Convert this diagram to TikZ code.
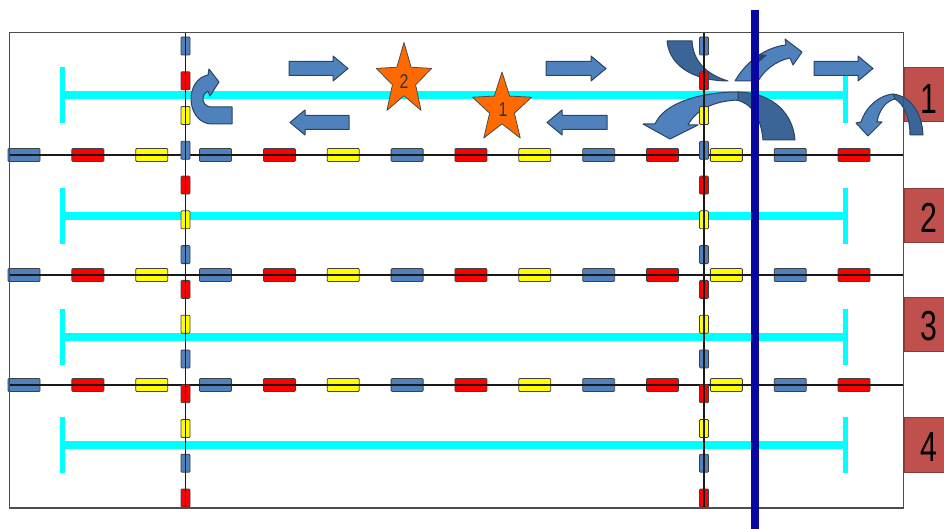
\documentclass[tikz,border=0pt]{standalone}
\usepackage{fontspec}
\setmainfont{Liberation Sans}
\definecolor{ablue}{HTML}{4F81BD}
\definecolor{adark}{HTML}{3B6596}
\definecolor{aline}{HTML}{2A4465}
\definecolor{dred}{HTML}{FF0000}
\definecolor{dyel}{HTML}{FFFF00}
\definecolor{lanecyan}{HTML}{00FFFF}
\definecolor{navyline}{RGB}{8,8,160}
\definecolor{boxred}{HTML}{C0504D}
\definecolor{boxline}{HTML}{8C3A38}
\definecolor{starorange}{HTML}{FF6A00}
\newcommand\rightblock[3]{%
  \filldraw[blockarrow] (#1,#3-7) -- (#2-15,#3-7) -- (#2-15,#3-12.5) -- (#2,#3) -- (#2-15,#3+12.5) -- (#2-15,#3+7) -- (#1,#3+7) -- cycle;}
\newcommand\leftblock[3]{%
  \filldraw[blockarrow] (#2,#3-7) -- (#1+15,#3-7) -- (#1+15,#3-12.5) -- (#1,#3) -- (#1+15,#3+12.5) -- (#1+15,#3+7) -- (#2,#3+7) -- cycle;}
\newcommand\drawstar[4]{%
  \filldraw[starsty] (#1,#2-#4) \foreach \sa/\sr in {126/0.42,162/1,198/0.42,234/1,270/0.42,306/1,342/0.42,18/1,54/0.42} { -- ({#1+#3*\sr*cos(\sa)},{#2-#4*\sr*sin(\sa)}) } -- cycle;}
\newcommand\numlbl[1]{\scalebox{0.72}[1]{\fontsize{42}{42}\selectfont #1}}
\newcommand\starlbl[1]{\scalebox{0.8}[1]{\fontsize{20}{20}\selectfont #1}}
\begin{document}
\begin{tikzpicture}[x=1pt,y=-1pt,
  hdash/.style={draw=black!75, line width=0.8pt, rounded corners=1pt},
  hline/.style={draw=black!90, line width=1.1pt},
  blockarrow/.style={fill=ablue, draw=aline, line width=1pt, line join=round},
  darkpart/.style={fill=adark, draw=aline, line width=1pt, line join=round},
  starsty/.style={fill=starorange, draw=black!70, line width=0.8pt, line join=round},
  lane/.style={draw=lanecyan, line width=8pt},
  lanecap/.style={draw=lanecyan, line width=5pt},
  numbox/.style={fill=boxred, draw=boxline, line width=1pt, minimum width=46pt, inner sep=0pt},
  numtext/.style={text=black, inner sep=0pt},
  startext/.style={text=black!80, inner sep=0pt}]
\useasboundingbox (0,0) rectangle (944,529);
\clip (0,0) rectangle (944,529);
\fill[white] (0,0) rectangle (944,529);
% lanes
\foreach \ly in {95,216,337,444.5} {
  \draw[lane] (62,\ly) -- (845,\ly);
  \draw[lanecap] (62,\ly-28) -- (62,\ly+28);
  \draw[lanecap] (845,\ly-28) -- (845,\ly+28);
}
% horizontal dashed lines
\foreach \yy in {155,275,385} {
  \foreach \k in {0,...,13} {
    \pgfmathtruncatemacro\cidx{mod(\k,3)}
    \ifcase\cidx \def\dashcol{ablue}\or\def\dashcol{dred}\or\def\dashcol{dyel}\fi
    \filldraw[hdash, fill=\dashcol] ({8+63.85*\k},\yy-6.5) rectangle ++(32,13);
  }
  \draw[hline] (10,\yy) -- (903,\yy);
}
% straight block arrows
\rightblock{289}{348}{68.5}
\rightblock{546}{606}{68.5}
\rightblock{814}{873}{68.5}
\leftblock{290}{349}{122.5}
\leftblock{547}{607}{122.5}
% stars
\drawstar{404}{80}{29}{37.5}
\node[startext] (star2) at (404,82) {\starlbl{2}};
\drawstar{502}{108.5}{31}{36.5}
\node[startext] (star1) at (503,110) {\starlbl{1}};
% U-turn arrow
\filldraw[blockarrow] (232,107) -- (212,107) .. controls (205,107) and (203,102) .. (203,99)
  .. controls (203,95) and (205,92) .. (208,91) -- (210,96) -- (219,82) -- (209,69) -- (208,75)
  .. controls (197,77) and (191,88) .. (191,99) .. controls (191,112) and (199,124) .. (212,124)
  -- (232,124) -- cycle;
% upper curved arrow pair
\filldraw[darkpart] (667,41) .. controls (670,70) and (700,81) .. (728,81)
  .. controls (705,74) and (693,60) .. (692,41) -- cycle;
\filldraw[blockarrow] (735,81) .. controls (747,60) and (767,47) .. (786,45) -- (785,39) -- (802,52)
  -- (793,65) -- (790,58) .. controls (775,61) and (764,71) .. (758,81) -- cycle;
\fill[aline] (759,54) -- (767,55) -- (759,62) -- cycle;
% lower curved arrow pair
\filldraw[darkpart] (738,92) .. controls (775,93) and (793,115) .. (795,140) -- (763,140)
  .. controls (761,118) and (752,103) .. (736,100) -- cycle;
\filldraw[blockarrow] (643,124) -- (670,139) -- (698,125) -- (688,125)
  .. controls (696,110) and (713,101) .. (738,100) -- (738,92)
  .. controls (700,92) and (664,103) .. (655,124) -- cycle;
% vertical dashed lines
\foreach \xx in {185.5,704} {
  \foreach \k in {0,...,13} {
    \pgfmathtruncatemacro\cidx{mod(\k,3)}
    \ifcase\cidx \def\dashcol{ablue}\or\def\dashcol{dred}\or\def\dashcol{dyel}\fi
    \filldraw[hdash, fill=\dashcol] (\xx-4.5,{37+34.77*\k}) rectangle ++(9,18);
  }
  \draw[hline] (\xx,33) -- (\xx,508);
}
% number boxes
\node[numbox, minimum height=54pt] (box1) at (927,95) {};
\node[numbox, minimum height=54pt] (box2) at (927,216) {};
\node[numbox, minimum height=54pt] (box3) at (927,324) {};
\node[numbox, minimum height=55pt] (box4) at (927,444.5) {};
\node[numtext] (num1) at (929,99) {\numlbl{1}};
\node[numtext] (num2) at (929,218) {\numlbl{2}};
\node[numtext] (num3) at (929,326) {\numlbl{3}};
\node[numtext] (num4) at (929,447) {\numlbl{4}};
% small curved arrow at right
\filldraw[darkpart] (893,94) .. controls (910,96) and (922,112) .. (923,135) -- (910,135)
  .. controls (910,118) and (904,104) .. (895,99) -- cycle;
\filldraw[blockarrow] (856,123) -- (868,136) -- (882,122) -- (877,122)
  .. controls (879,110) and (886,101) .. (895,99) -- (893,94)
  .. controls (880,95) and (866,106) .. (861,122) -- cycle;
% outer frame
\draw[draw=black!70, line width=1.5pt] (9.5,32.5) rectangle (903.5,508);
% blue vertical line
\draw[draw=navyline, line width=8pt] (755,10) -- (755,529);
\end{tikzpicture}
\end{document}
